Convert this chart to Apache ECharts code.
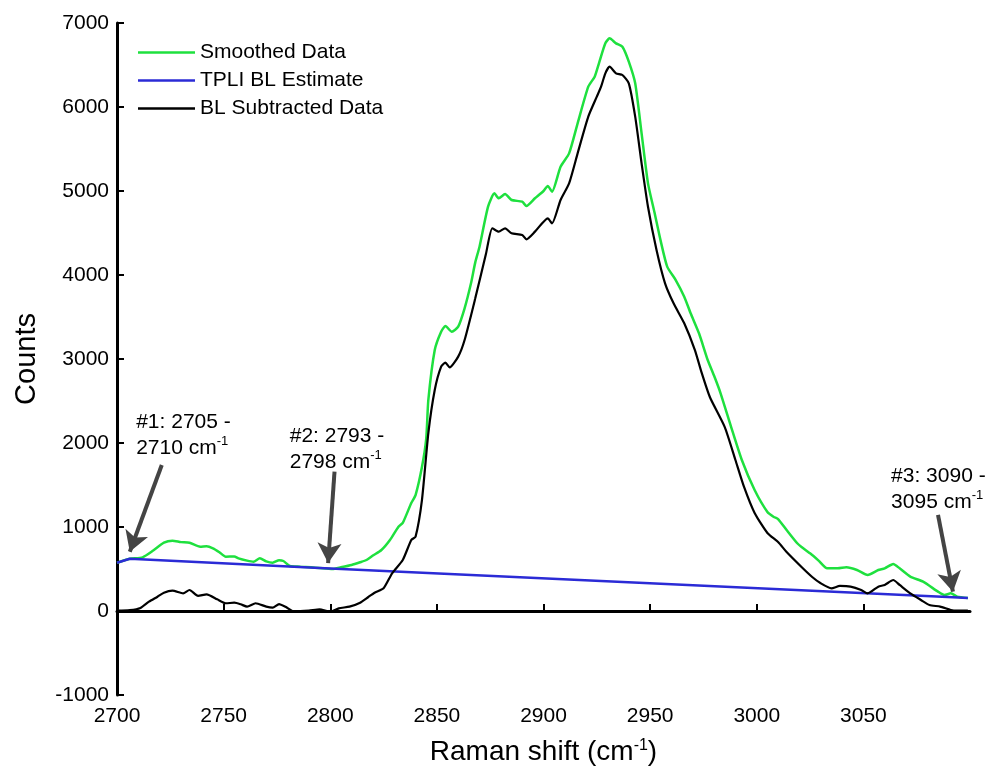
<!DOCTYPE html>
<html>
<head>
    <meta charset="utf-8">
    <title>raman_tpli</title>
    <script src="https://cdn.jsdelivr.net/npm/echarts@6/dist/echarts.min.js"></script>
    <style>
        html, body { margin: 0; padding: 0; background: #fff; }
        #chart { width: 995px; height: 772px; }
    </style>
</head>
<body>
<div id="chart"></div>
<script>
    // values: [Raman shift, counts]
    var smoothed = [
        [2700, 575], [2706, 622], [2712, 639], [2717, 720], [2722, 813], [2726, 837], [2730, 820],
        [2734, 813], [2739, 765], [2742, 770], [2745, 746], [2748, 700], [2751, 646], [2755, 650],
        [2757, 627], [2761, 600], [2764, 587], [2767, 627], [2770, 590], [2773, 575], [2776, 605],
        [2778, 595], [2781, 536], [2786, 528], [2791, 520], [2795, 512], [2801, 500], [2805, 520],
        [2810, 548], [2814, 580], [2817, 607], [2820, 660], [2824, 726], [2828, 845], [2832, 1004],
        [2834, 1048], [2838, 1286], [2840, 1380], [2843, 1714], [2845, 2050], [2846, 2512],
        [2849, 3107], [2852, 3325], [2854, 3393], [2857, 3325], [2860, 3385], [2863, 3603],
        [2866, 3901], [2868, 4150], [2870, 4337], [2874, 4813], [2877, 4972], [2879, 4913],
        [2882, 4964], [2885, 4893], [2890, 4873], [2892, 4821], [2896, 4913], [2900, 5000],
        [2902, 5060], [2904, 4992], [2908, 5290], [2912, 5448], [2916, 5806], [2921, 6242],
        [2924, 6361], [2926, 6520], [2929, 6758], [2931, 6817], [2934, 6758], [2937, 6718],
        [2940, 6540], [2943, 6282], [2946, 5687], [2949, 5091], [2952, 4750], [2955, 4400],
        [2958, 4100], [2962, 3940], [2966, 3742], [2969, 3544], [2973, 3300], [2977, 2988],
        [2980, 2800], [2983, 2595], [2988, 2190], [2993, 1798], [2999, 1440], [3005, 1179],
        [3008, 1120], [3010, 1095], [3014, 964], [3019, 806], [3021, 762], [3025, 687],
        [3029, 600], [3033, 508], [3038, 508], [3042, 520], [3047, 488], [3052, 429], [3057, 488],
        [3060, 508], [3064, 560], [3067, 508], [3072, 409], [3078, 349], [3085, 230], [3088, 190],
        [3091, 210], [3094, 171], [3099, 155]
    ];

    var baseline = [[2700, 575], [2706, 622], [2795, 512], [3092, 165], [3099, 155]];

    var subtracted = [
        [2700, 4], [2706, 10], [2711, 36], [2715, 111], [2719, 170], [2722, 218], [2726, 242],
        [2731, 210], [2734, 250], [2738, 179], [2742, 198], [2747, 139], [2751, 92], [2755, 99],
        [2758, 80], [2761, 52], [2765, 92], [2770, 52], [2773, 40], [2776, 83], [2779, 50],
        [2783, -8], [2786, 0], [2790, 4], [2795, 20], [2800, -8], [2804, 32], [2809, 52],
        [2814, 99], [2818, 170], [2821, 220], [2825, 270], [2829, 448], [2834, 607], [2838, 845],
        [2840, 885], [2843, 1321], [2846, 2119], [2849, 2631], [2852, 2909], [2854, 2956],
        [2856, 2900], [2860, 3028], [2863, 3226], [2868, 3722], [2873, 4250], [2876, 4556],
        [2879, 4516], [2882, 4556], [2885, 4496], [2890, 4476], [2892, 4425], [2896, 4516],
        [2902, 4675], [2904, 4615], [2908, 4893], [2912, 5091], [2916, 5448], [2921, 5885],
        [2925, 6123], [2927, 6242], [2929, 6401], [2931, 6480], [2934, 6401], [2937, 6381],
        [2940, 6282], [2943, 5885], [2946, 5329], [2949, 4813], [2953, 4298], [2957, 3901],
        [2961, 3663], [2966, 3425], [2971, 3107], [2974, 2850], [2978, 2548], [2985, 2190],
        [2990, 1798], [2994, 1480], [2999, 1167], [3005, 929], [3010, 821], [3014, 702],
        [3021, 524], [3026, 405], [3030, 330], [3035, 270], [3039, 298], [3044, 290], [3049, 250],
        [3052, 210], [3057, 290], [3060, 310], [3064, 369], [3067, 310], [3072, 210], [3077, 131],
        [3081, 71], [3086, 52], [3091, 12], [3094, 4], [3099, 4]
    ];

    var seriesNames = ['Smoothed Data', 'TPLI BL Estimate', 'BL Subtracted Data'];

    // anchor-point callouts: text top-left, arrow tail -> head (data units)
    var callouts = [
        {text: '#1: 2705 -\n2710 cm{sup|-1}', at: [2709, 2400], tail: [2721, 1738], head: [2706, 706]},
        {text: '#2: 2793 -\n2798 cm{sup|-1}', at: [2781, 2240], tail: [2802, 1658], head: [2799, 571]},
        {text: '#3: 3090 -\n3095 cm{sup|-1}', at: [3063, 1765], tail: [3085, 1143], head: [3092, 230]}
    ];

    var font = 'Liberation Sans, Arial, Helvetica, sans-serif';
    var supStyle = {fontSize: 13, verticalAlign: 'top', lineHeight: 14, fontFamily: font, color: '#000'};

    function plain(v) {
        return String(v);
    }

    var chart = echarts.init(document.getElementById('chart'));

    var option = {
        animation: false,
        textStyle: {fontFamily: font},
        grid: {left: 117, right: 25, top: 23, bottom: 77},
        legend: {
            orient: 'vertical',
            left: 133,
            top: 37,
            icon: 'rect',
            itemWidth: 57,
            itemHeight: 2.5,
            itemGap: 7,
            data: seriesNames,
            textStyle: {fontSize: 21, color: '#000', fontFamily: font, lineHeight: 21}
        },
        xAxis: {
            type: 'value',
            min: 2700,
            max: 3100,
            interval: 50,
            name: 'Raman shift (cm{sup|-1})',
            nameLocation: 'middle',
            nameGap: 43,
            nameTextStyle: {
                fontSize: 28, color: '#000', fontFamily: font,
                rich: {sup: {fontSize: 16, verticalAlign: 'top', fontFamily: font, color: '#000'}}
            },
            axisLine: {lineStyle: {color: '#000', width: 3}},
            axisTick: {inside: true, length: 7, lineStyle: {color: '#000', width: 2}},
            axisLabel: {fontSize: 21, color: '#000', margin: 11, fontFamily: font,
                showMaxLabel: false, formatter: plain},
            splitLine: {show: false}
        },
        yAxis: {
            type: 'value',
            min: -1000,
            max: 7000,
            interval: 1000,
            name: 'Counts',
            nameLocation: 'middle',
            nameGap: 76,
            nameTextStyle: {fontSize: 29, color: '#000', fontFamily: font},
            axisLine: {lineStyle: {color: '#000', width: 3}},
            axisTick: {inside: true, length: 7, lineStyle: {color: '#000', width: 2}},
            axisLabel: {fontSize: 21, color: '#000', margin: 8, fontFamily: font, formatter: plain},
            splitLine: {show: false}
        },
        series: [
            {
                name: seriesNames[0],
                type: 'line',
                data: smoothed,
                symbol: 'none',
                smooth: 0.2,
                lineStyle: {color: '#1ee03e', width: 2.5},
                itemStyle: {color: '#1ee03e'}
            },
            {
                name: seriesNames[1],
                type: 'line',
                data: baseline,
                symbol: 'none',
                lineStyle: {color: '#2b2bd6', width: 2.5},
                itemStyle: {color: '#2b2bd6'}
            },
            {
                name: seriesNames[2],
                type: 'line',
                data: subtracted,
                symbol: 'none',
                smooth: 0.2,
                lineStyle: {color: '#000', width: 2.2},
                itemStyle: {color: '#000'},
                markLine: {
                    silent: true,
                    animation: false,
                    symbol: ['none', 'arrow'],
                    symbolSize: [18, 20],
                    label: {show: false},
                    lineStyle: {color: '#444', width: 4, type: 'solid'},
                    data: callouts.map(function (c) {
                        return [{coord: c.tail}, {coord: c.head}];
                    })
                }
            }
        ]
    };
    chart.setOption(option);

    // callout texts, placed through the chart's own scales
    chart.setOption({
        graphic: callouts.map(function (c) {
            var p = chart.convertToPixel({gridIndex: 0}, c.at);
            return {
                type: 'text',
                x: p[0],
                y: p[1],
                style: {
                    text: c.text,
                    fontSize: 21,
                    lineHeight: 26,
                    fontFamily: font,
                    fill: '#000',
                    rich: {sup: supStyle}
                }
            };
        })
    });
</script>
</body>
</html>
